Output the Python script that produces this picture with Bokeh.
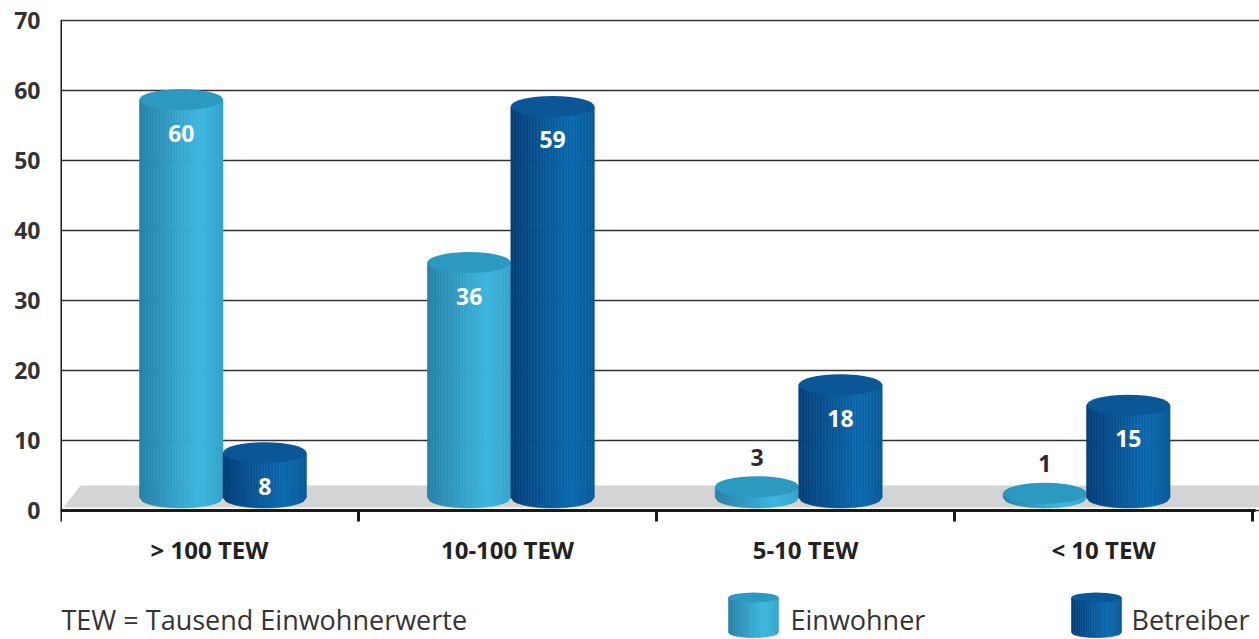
import numpy as np
from bokeh.plotting import figure
from bokeh.models import Range1d, FixedTicker
from bokeh.embed import file_html
from bokeh.resources import INLINE
from bokeh.core.properties import value

# ---------------- data ----------------
categories = ["> 100 TEW", "10-100 TEW", "5-10 TEW", "< 10 TEW"]
einwohner = [60, 36, 3, 1]
betreiber = [8, 59, 18, 15]
series_names = ["Einwohner", "Betreiber"]
y_ticks = [0, 10, 20, 30, 40, 50, 60, 70]
footnote = "TEW = Tausend Einwohnerwerte"

# ---------------- layout helpers (pixel -> data) ----------------
W, H = 1259, 639
LEFT = 60
PX_X = 298.0     # pixels per category
PX_Y = 7.0       # pixels per y unit
ZERO_PY = 510.0  # pixel row of y = 0


def dx(px):
    return (px - LEFT) / PX_X


def dy(py):
    return (ZERO_PY - py) / PX_Y


FONT = "Open Sans"
COLORS = {
    "Einwohner": ("#2681a7", "#3db7df", "#2c9ac0"),
    "Betreiber": ("#053e77", "#0b69ae", "#0a5697"),
}

# 3-D look: back plane slightly compressed
BACK_X0 = dx(222.5)
BACK_SCALE = 0.966
BAR_W = 0.28
CAP_H = 3.0
YB = dy(497)

p = figure(width=W, height=H,
           x_range=Range1d(dx(LEFT), dx(W)), y_range=Range1d(dy(H), dy(0)),
           output_backend="svg", toolbar_location=None, x_axis_location=None,
           min_border_left=LEFT, min_border_right=0, min_border_top=0, min_border_bottom=0,
           background_fill_color="white", border_fill_color="white",
           outline_line_color=None)

# y axis & grid
p.yaxis.ticker = FixedTicker(ticks=y_ticks)
p.yaxis.axis_line_color = None
p.yaxis.major_tick_line_color = None
p.yaxis.minor_tick_line_color = None
p.yaxis.major_tick_out = 0
p.yaxis.major_tick_in = 0
p.yaxis.major_label_standoff = 20
p.yaxis.major_label_text_font = FONT
p.yaxis.major_label_text_font_style = "bold"
p.yaxis.major_label_text_font_size = "23px"
p.yaxis.major_label_text_color = "#333333"
p.ygrid.ticker = FixedTicker(ticks=y_ticks)
p.ygrid.grid_line_color = "#333333"
p.ygrid.grid_line_width = 1.5
p.xgrid.grid_line_color = None

# floor
p.patch(x=[dx(63), dx(W), dx(W), dx(80)], y=[dy(507), dy(507), dy(485), dy(485)],
        fill_color="#d3d4d6", line_color=None)


def hexrgb(h):
    return tuple(int(h[i:i + 2], 16) for i in (1, 3, 5))


def mix(c1, c2, t):
    a, b = hexrgb(c1), hexrgb(c2)
    return "#%02x%02x%02x" % tuple(int(round(x + (y - x) * t)) for x, y in zip(a, b))


def profile(t):
    if t < 0.72:
        return t / 0.72
    return 1.0 - 0.35 * (t - 0.72) / 0.28


def cylinder(cx, w, yb, yt, h, dark, light, top, n=28):
    xs, ys, cs = [], [], []

    def bot(x):
        u = (x - cx) / (w / 2)
        return yb - h / 2 * np.sqrt(max(0.0, 1 - u * u))

    for i in range(n):
        xa = cx - w / 2 + w * i / n
        xb = xa + w / n
        xs.append([xa, xb, xb, xa])
        ys.append([yt, yt, bot(xb), bot(xa)])
        cs.append(mix(dark, light, profile((i + 0.5) / n)))
    p.patches(xs, ys, fill_color=cs, line_color=cs, line_width=0.6)
    p.ellipse(x=[cx], y=[yt], width=w, height=h, fill_color=top, line_color=None)


# bars
label_x, label_y, label_t, label_c = [], [], [], []
for g in range(len(categories)):
    pc = BACK_X0 + BACK_SCALE * g
    for s, (name, vals) in enumerate(zip(series_names, [einwohner, betreiber])):
        v = vals[g]
        cx = pc + (s - 0.5) * BAR_W
        yt = max(0.5 + 0.97 * v, YB + 0.6)
        dark, light, top = COLORS[name]
        cylinder(cx, BAR_W, YB, yt, CAP_H, dark, light, top)
        label_x.append(cx)
        label_t.append(str(v))
        if v >= 5:
            label_y.append(yt - 4.8)
            label_c.append("white")
        else:
            label_y.append(yt + 4.2)
            label_c.append("#2a2a2a")

p.text(x=label_x, y=label_y, text=label_t, text_color=label_c,
       text_font=value(FONT), text_font_style="bold", text_font_size="23px",
       text_align="center", text_baseline="middle")

# axes lines & category ticks
p.segment(x0=[dx(LEFT)], y0=[0], x1=[dx(1255)], y1=[0], line_color="#1a1a1a", line_width=3)
p.segment(x0=[0], y0=[dy(521)], x1=[0], y1=[y_ticks[-1]], line_color="#1a1a1a", line_width=3)
bounds = list(range(1, len(categories) + 1))
p.segment(x0=bounds, y0=[0] * len(bounds), x1=bounds, y1=[dy(521)] * len(bounds),
          line_color="#1a1a1a", line_width=3)

# category labels
p.text(x=[g + 0.5 for g in range(len(categories))], y=[dy(549)] * len(categories),
       text=categories, text_color="#222222", text_font=value(FONT),
       text_font_style="bold", text_font_size="24px",
       text_align="center", text_baseline="middle")

# footnote
p.text(x=[dx(61)], y=[dy(619)], text=[footnote], text_color="#333333",
       text_font=value(FONT), text_font_size="27px",
       text_align="left", text_baseline="middle")

# legend
legend_icon_px = [753, 1096]
legend_text_px = [790, 1131]
for name, ipx, tpx in zip(series_names, legend_icon_px, legend_text_px):
    dark, light, top = COLORS[name]
    cylinder(dx(ipx), 50 / PX_X, dy(632), dy(597), 10 / PX_Y, dark, light, top)
    p.text(x=[dx(tpx)], y=[dy(619)], text=[name], text_color="#333333",
           text_font=value(FONT), text_font_size="27px",
           text_align="left", text_baseline="middle")

open("out.html", "w").write(file_html(p, INLINE))
